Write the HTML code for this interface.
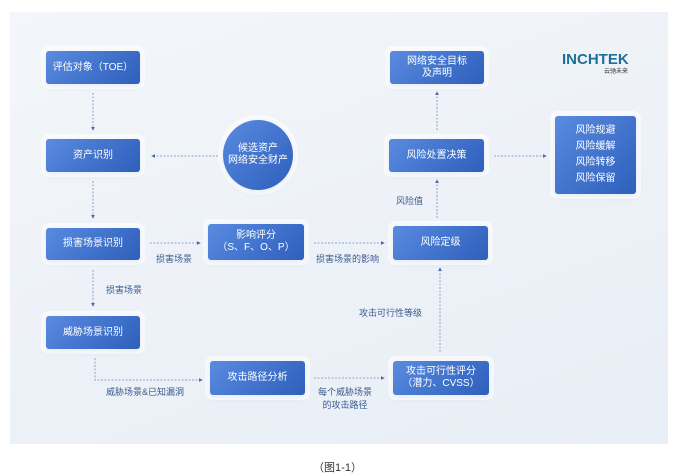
<!DOCTYPE html>
<html><head><meta charset="utf-8"><style>
body{margin:0;width:675px;height:476px;background:#fff;position:relative;font-family:"Liberation Sans","Noto Sans CJK SC",sans-serif;overflow:hidden}
.panel{position:absolute;left:10px;top:12px;width:658px;height:432px;background:linear-gradient(160deg,#f3f6fa,#e8eef6)}
.b{position:absolute;box-sizing:border-box;color:#fff;font-size:10px;line-height:12px;text-align:center;display:flex;align-items:center;justify-content:center;border-radius:3px;background:linear-gradient(135deg,#5a8be0,#2d5fbc);box-shadow:0 0 0 5px rgba(255,255,255,.6),0 2px 6px rgba(60,100,170,.25)}
.l{position:absolute;font-size:9px;color:#3a5a8c;white-space:nowrap;line-height:12px}
svg{position:absolute;left:0;top:0}
</style></head><body>
<div class="panel"></div>
<svg width="675" height="476">
<defs><marker id="a" markerWidth="5" markerHeight="5" refX="4" refY="2.5" orient="auto"><path d="M0,0 L5,2.5 L0,5z" fill="#4a6fa8"/></marker></defs>
<g stroke="#6f8fc0" stroke-width="0.8" stroke-dasharray="2,1.5" fill="none" marker-end="url(#a)">
<line x1="93" y1="93" x2="93" y2="130"/>
<line x1="93" y1="181" x2="93" y2="218"/>
<line x1="93" y1="270" x2="93" y2="306"/>
<line x1="218" y1="156" x2="152" y2="156"/>
<line x1="150" y1="243" x2="200" y2="243"/>
<line x1="314" y1="243" x2="384" y2="243"/>
<polyline points="95,358 95,380 202,380"/>
<line x1="314" y1="378" x2="384" y2="378"/>
<line x1="440" y1="352" x2="440" y2="268"/>
<line x1="437" y1="130" x2="437" y2="92"/>
<line x1="437" y1="218" x2="437" y2="180"/>
<line x1="494" y1="156" x2="546" y2="156"/>
</g></svg>
<div class="b" style="left:46px;top:51px;width:94px;height:33px">评估对象（TOE）</div>
<div class="b" style="left:46px;top:139px;width:94px;height:33px">资产识别</div>
<div class="b" style="left:46px;top:228px;width:94px;height:32px">损害场景识别</div>
<div class="b" style="left:46px;top:316px;width:94px;height:33px">威胁场景识别</div>
<div class="b" style="left:223px;top:120px;width:70px;height:70px;border-radius:50%">候选资产<br>网络安全财产</div>
<div class="b" style="left:208px;top:224px;width:96px;height:36px">影响评分<br>（S、F、O、P）</div>
<div class="b" style="left:210px;top:361px;width:95px;height:34px">攻击路径分析</div>
<div class="b" style="left:390px;top:51px;width:94px;height:33px">网络安全目标<br>及声明</div>
<div class="b" style="left:389px;top:139px;width:95px;height:33px">风险处置决策</div>
<div class="b" style="left:393px;top:226px;width:95px;height:34px">风险定级</div>
<div class="b" style="left:393px;top:361px;width:96px;height:34px">攻击可行性评分<br>（潜力、CVSS）</div>
<div class="b" style="left:555px;top:116px;width:81px;height:78px;line-height:16px">风险规避<br>风险缓解<br>风险转移<br>风险保留</div>
<div style="position:absolute;left:562px;top:51px;font-size:15px;font-weight:bold;color:#1e6f9a;letter-spacing:0px">INCHTEK</div>
<div style="position:absolute;left:604px;top:66px;font-size:6px;color:#333">云驰未来</div>
<div class="l" style="left:156px;top:253px">损害场景</div>
<div class="l" style="left:316px;top:253px">损害场景的影响</div>
<div class="l" style="left:106px;top:284px">损害场景</div>
<div class="l" style="left:359px;top:307px">攻击可行性等级</div>
<div class="l" style="left:396px;top:195px">风险值</div>
<div class="l" style="left:106px;top:386px">威胁场景&amp;已知漏洞</div>
<div class="l" style="left:318px;top:386px;text-align:center;line-height:13px">每个威胁场景<br>的攻击路径</div>
<div style="position:absolute;left:0;width:675px;top:459px;text-align:center;font-size:11px;color:#333">（图1-1）</div>
</body></html>
